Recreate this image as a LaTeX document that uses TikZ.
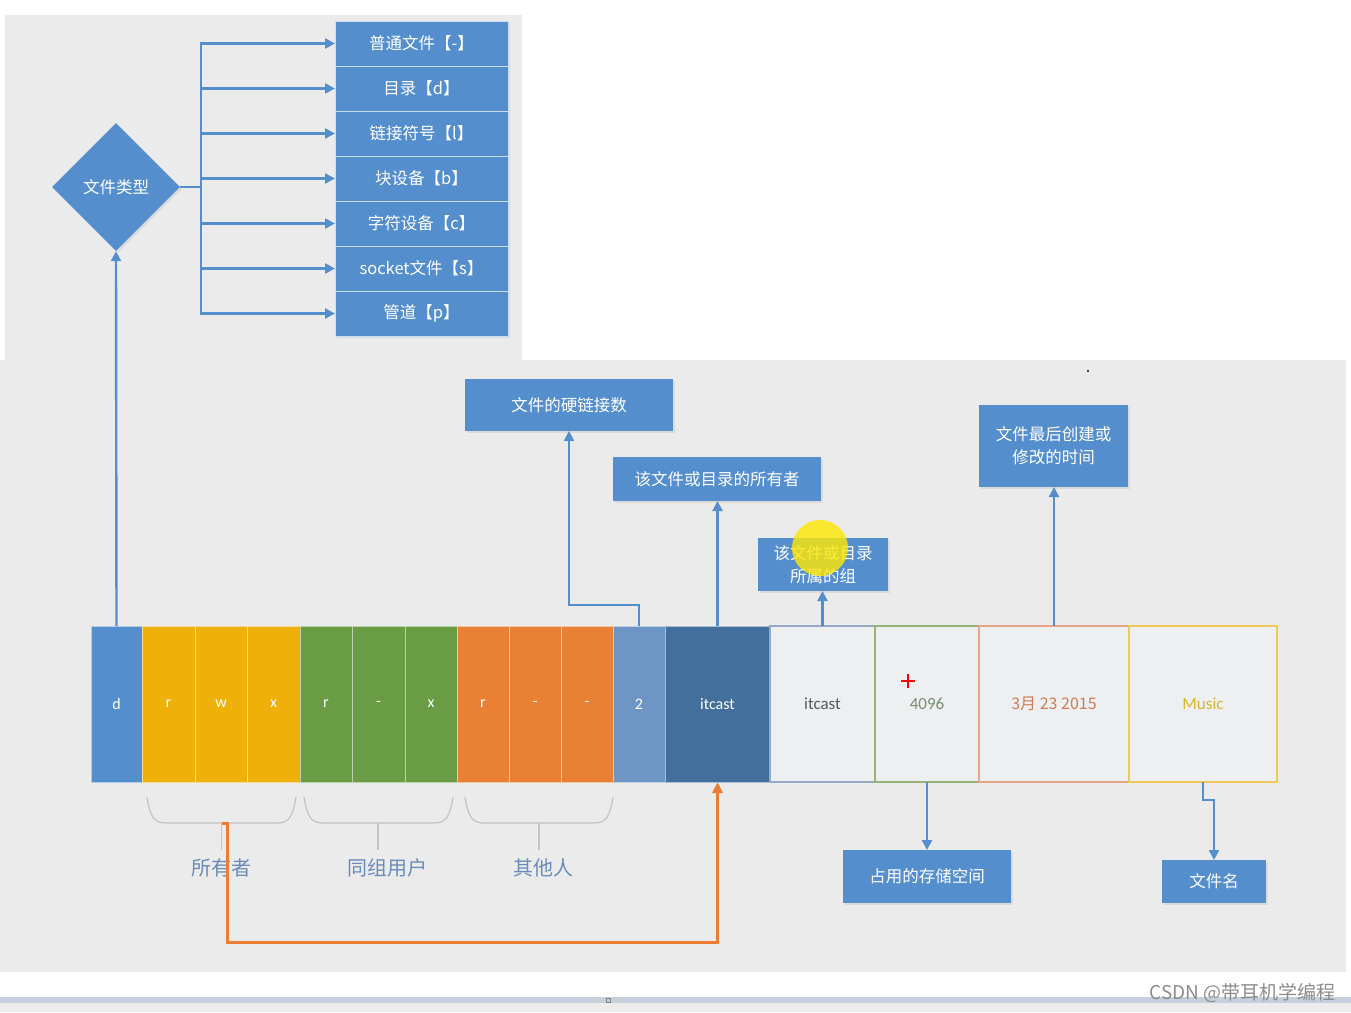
\documentclass[tikz,border=0pt]{standalone}
\usepackage{fontspec}
\setmainfont{Noto Sans CJK SC}
\newfontfamily\lat{Carlito}
\usetikzlibrary{shapes.geometric,arrows.meta,shadows}
\definecolor{bxblue}{RGB}{84,142,205}
\definecolor{panel}{RGB}{235,235,235}
\definecolor{cyel}{RGB}{240,176,10}
\definecolor{cgrn}{RGB}{106,155,69}
\definecolor{corg}{RGB}{233,128,52}
\definecolor{csteel}{RGB}{110,150,196}
\definecolor{cdark}{RGB}{67,111,156}
\definecolor{lblue}{RGB}{105,140,185}
\definecolor{brgray}{RGB}{195,195,195}
\definecolor{oline}{RGB}{237,125,49}
\definecolor{stripc}{RGB}{198,207,220}
\definecolor{stripg}{RGB}{236,236,236}
\definecolor{bdgrp}{RGB}{150,170,200}
\definecolor{txgrp}{RGB}{85,90,100}
\definecolor{bdsize}{RGB}{150,178,118}
\definecolor{txsize}{RGB}{120,140,110}
\definecolor{bddate}{RGB}{232,165,135}
\definecolor{txdate}{RGB}{205,125,85}
\definecolor{bdname}{RGB}{240,200,90}
\definecolor{txname}{RGB}{215,180,50}
\definecolor{wmc}{RGB}{140,140,140}
\definecolor{lcfill}{RGB}{238,239,241}
\tikzset{
  x=1pt,y=-1pt,
  bbox/.style={fill=bxblue,text=white,inner sep=0pt,outer sep=0pt,font=\fontsize{16.5}{21}\selectfont,align=center,
     drop shadow={opacity=0.15,shadow xshift=2pt,shadow yshift=-2pt}},
  tbox/.style={bbox,minimum width=173pt,minimum height=45pt,draw=white!70!bxblue,line width=0.6pt},
  cell/.style={inner sep=0pt,outer sep=0pt,minimum height=156pt,text=white,font=\lat\fontsize{16}{18}\selectfont,draw=white!55!#1,line width=0.7pt,fill=#1},
  lcell/.style={inner sep=0pt,outer sep=0pt,minimum height=156pt,fill=lcfill,draw=#1,line width=1.2pt,font=\lat\fontsize{17}{18}\selectfont},
  arr/.style={draw=bxblue,line width=2.4pt,-{Triangle[width=10pt,length=10pt]}},
  oarr/.style={draw=oline,line width=3pt,-{Triangle[width=10pt,length=11pt]}},
  brace/.style={draw=brgray,line width=1.2pt},
  grp/.style={text=lblue,font=\fontsize{20}{24}\selectfont},
}
\begin{document}
\begin{tikzpicture}
\useasboundingbox (0,0) rectangle (1351,1012);
\fill[white] (0,0) rectangle (1351,1012);
% panels
\fill[panel] (5,15) rectangle (522,360);
\fill[panel] (0,360) rectangle (1346,972);
% bottom strip
\fill[stripc] (0,997) rectangle (1351,1003);
\fill[stripg] (0,1003) rectangle (1351,1012);
\draw[gray,line width=0.6pt] (606,998) rectangle (610,1002);
\fill[black] (1088,371) circle (1.2);

% file type diamond and list
\node[diamond,aspect=1,fill=bxblue,minimum width=128pt,minimum height=128pt,inner sep=0pt,text=white,font=\fontsize{16.5}{20}\selectfont,
  drop shadow={opacity=0.15,shadow xshift=2pt,shadow yshift=-2pt}] (dia) at (116,187) {文件类型};
\node[tbox] (t1) at (421.5,43.5) {普通文件【-】};
\node[tbox] (t2) at (421.5,88.5) {目录【d】};
\node[tbox] (t3) at (421.5,133.5) {链接符号【l】};
\node[tbox] (t4) at (421.5,178.5) {块设备【b】};
\node[tbox] (t5) at (421.5,223.5) {字符设备【c】};
\node[tbox] (t6) at (421.5,268.5) {socket文件【s】};
\node[tbox] (t7) at (421.5,313.5) {管道【p】};
\foreach \t in {t1,t2,t3,t4,t5,t6,t7}{
  \draw[arr] (dia.east) -- ++(21,0) |- (\t.west);
}

% cells
\node[cell=bxblue,minimum width=51pt] (cd) at (116.5,704) {d};
\node[cell=cyel,minimum width=53pt] (c1) at (168.5,704) {r};
\node[cell=cyel,minimum width=52pt] (c2) at (221,704) {w};
\node[cell=cyel,minimum width=53pt] (c3) at (273.5,704) {x};
\node[cell=cgrn,minimum width=52pt] (c4) at (326,704) {r};
\node[cell=cgrn,minimum width=53pt] (c5) at (378.5,704) {-};
\node[cell=cgrn,minimum width=52pt] (c6) at (431,704) {x};
\node[cell=corg,minimum width=52pt] (c7) at (483,704) {r};
\node[cell=corg,minimum width=52pt] (c8) at (535,704) {-};
\node[cell=corg,minimum width=52pt] (c9) at (587,704) {-};
\node[cell=csteel,minimum width=52pt] (clink) at (639,704) {2};
\node[cell=cdark,minimum width=105pt] (cown) at (717.5,704) {itcast};
\node[lcell=bdgrp,minimum width=105pt,text=txgrp] (cgrp) at (822.5,704) {itcast};
\node[lcell=bdsize,minimum width=104pt,text=txsize] (csize) at (927,704) {4096};
\node[lcell=bddate,minimum width=150pt,text=txdate,font=\fontsize{16}{18}\selectfont] (cdate) at (1054,704) {3月 23 2015};
\node[lcell=bdname,minimum width=148pt,text=txname] (cname) at (1203,704) {Music};
% red plus
\draw[red,line width=2pt] (901,681) -- (915,681) (908,674) -- (908,688);

% upper info boxes
\node[bbox,minimum width=208pt,minimum height=52pt] (hl) at (569,405) {文件的硬链接数};
\node[bbox,minimum width=208pt,minimum height=44pt] (own) at (717,479) {该文件或目录的所有者};
\node[bbox,minimum width=130pt,minimum height=53pt,font=\fontsize{16.5}{23}\selectfont] (grpb) at (823,564.5) {该文件或目录\\所属的组};
\node[bbox,minimum width=149pt,minimum height=82pt,font=\fontsize{16.5}{23}\selectfont] (time) at (1053.5,446) {文件最后创建或\\修改的时间};
\node[bbox,minimum width=168pt,minimum height=53pt] (size) at (927,876.5) {占用的存储空间};
\node[bbox,minimum width=104pt,minimum height=43pt] (fname) at (1214,881.5) {文件名};
% yellow highlight
\fill[yellow!90!orange,fill opacity=0.8] (820,548) circle (28);

% arrows
\draw[arr] (cd.north) -- (dia.south);
\draw[arr] (clink.north) -- ++(0,-21) -| (hl.south);
\draw[arr] (cown.north) -- (own.south -| cown.north);
\draw[arr] (cgrp.north) -- (grpb.south -| cgrp.north);
\draw[arr] (cdate.north) -- (time.south -| cdate.north);
\draw[arr] (csize.south) -- (size.north);
\draw[arr] (cname.south) -- ++(0,18) -| (fname.north);

% braces
\draw[brace] (147,797) .. controls (150,815) and (153,823) .. (166,823) -- (277,823) .. controls (290,823) and (293,815) .. (296,797);
\draw[brace] (221.5,823) -- (221.5,850);
\draw[brace] (304,797) .. controls (307,815) and (310,823) .. (323,823) -- (434,823) .. controls (447,823) and (450,815) .. (453,797);
\draw[brace] (378,823) -- (378,850);
\draw[brace] (465,797) .. controls (468,815) and (471,823) .. (484,823) -- (594,823) .. controls (607,823) and (610,815) .. (613,797);
\draw[brace] (539,823) -- (539,850);
\node[grp] (lo) at (221,868) {所有者};
\node[grp] (lg) at (387,868) {同组用户};
\node[grp] (lt) at (543,868) {其他人};

% orange connector
\coordinate (ob) at (221.5,823);
\draw[oarr] (ob) -- ++(6,0) -- ++(0,119) -| (cown.south);

% watermark
\node[anchor=east,text=wmc,font=\fontsize{19}{22}\selectfont,inner sep=0pt] (wm) at (1336,993) {CSDN @带耳机学编程};
\end{tikzpicture}
\end{document}
